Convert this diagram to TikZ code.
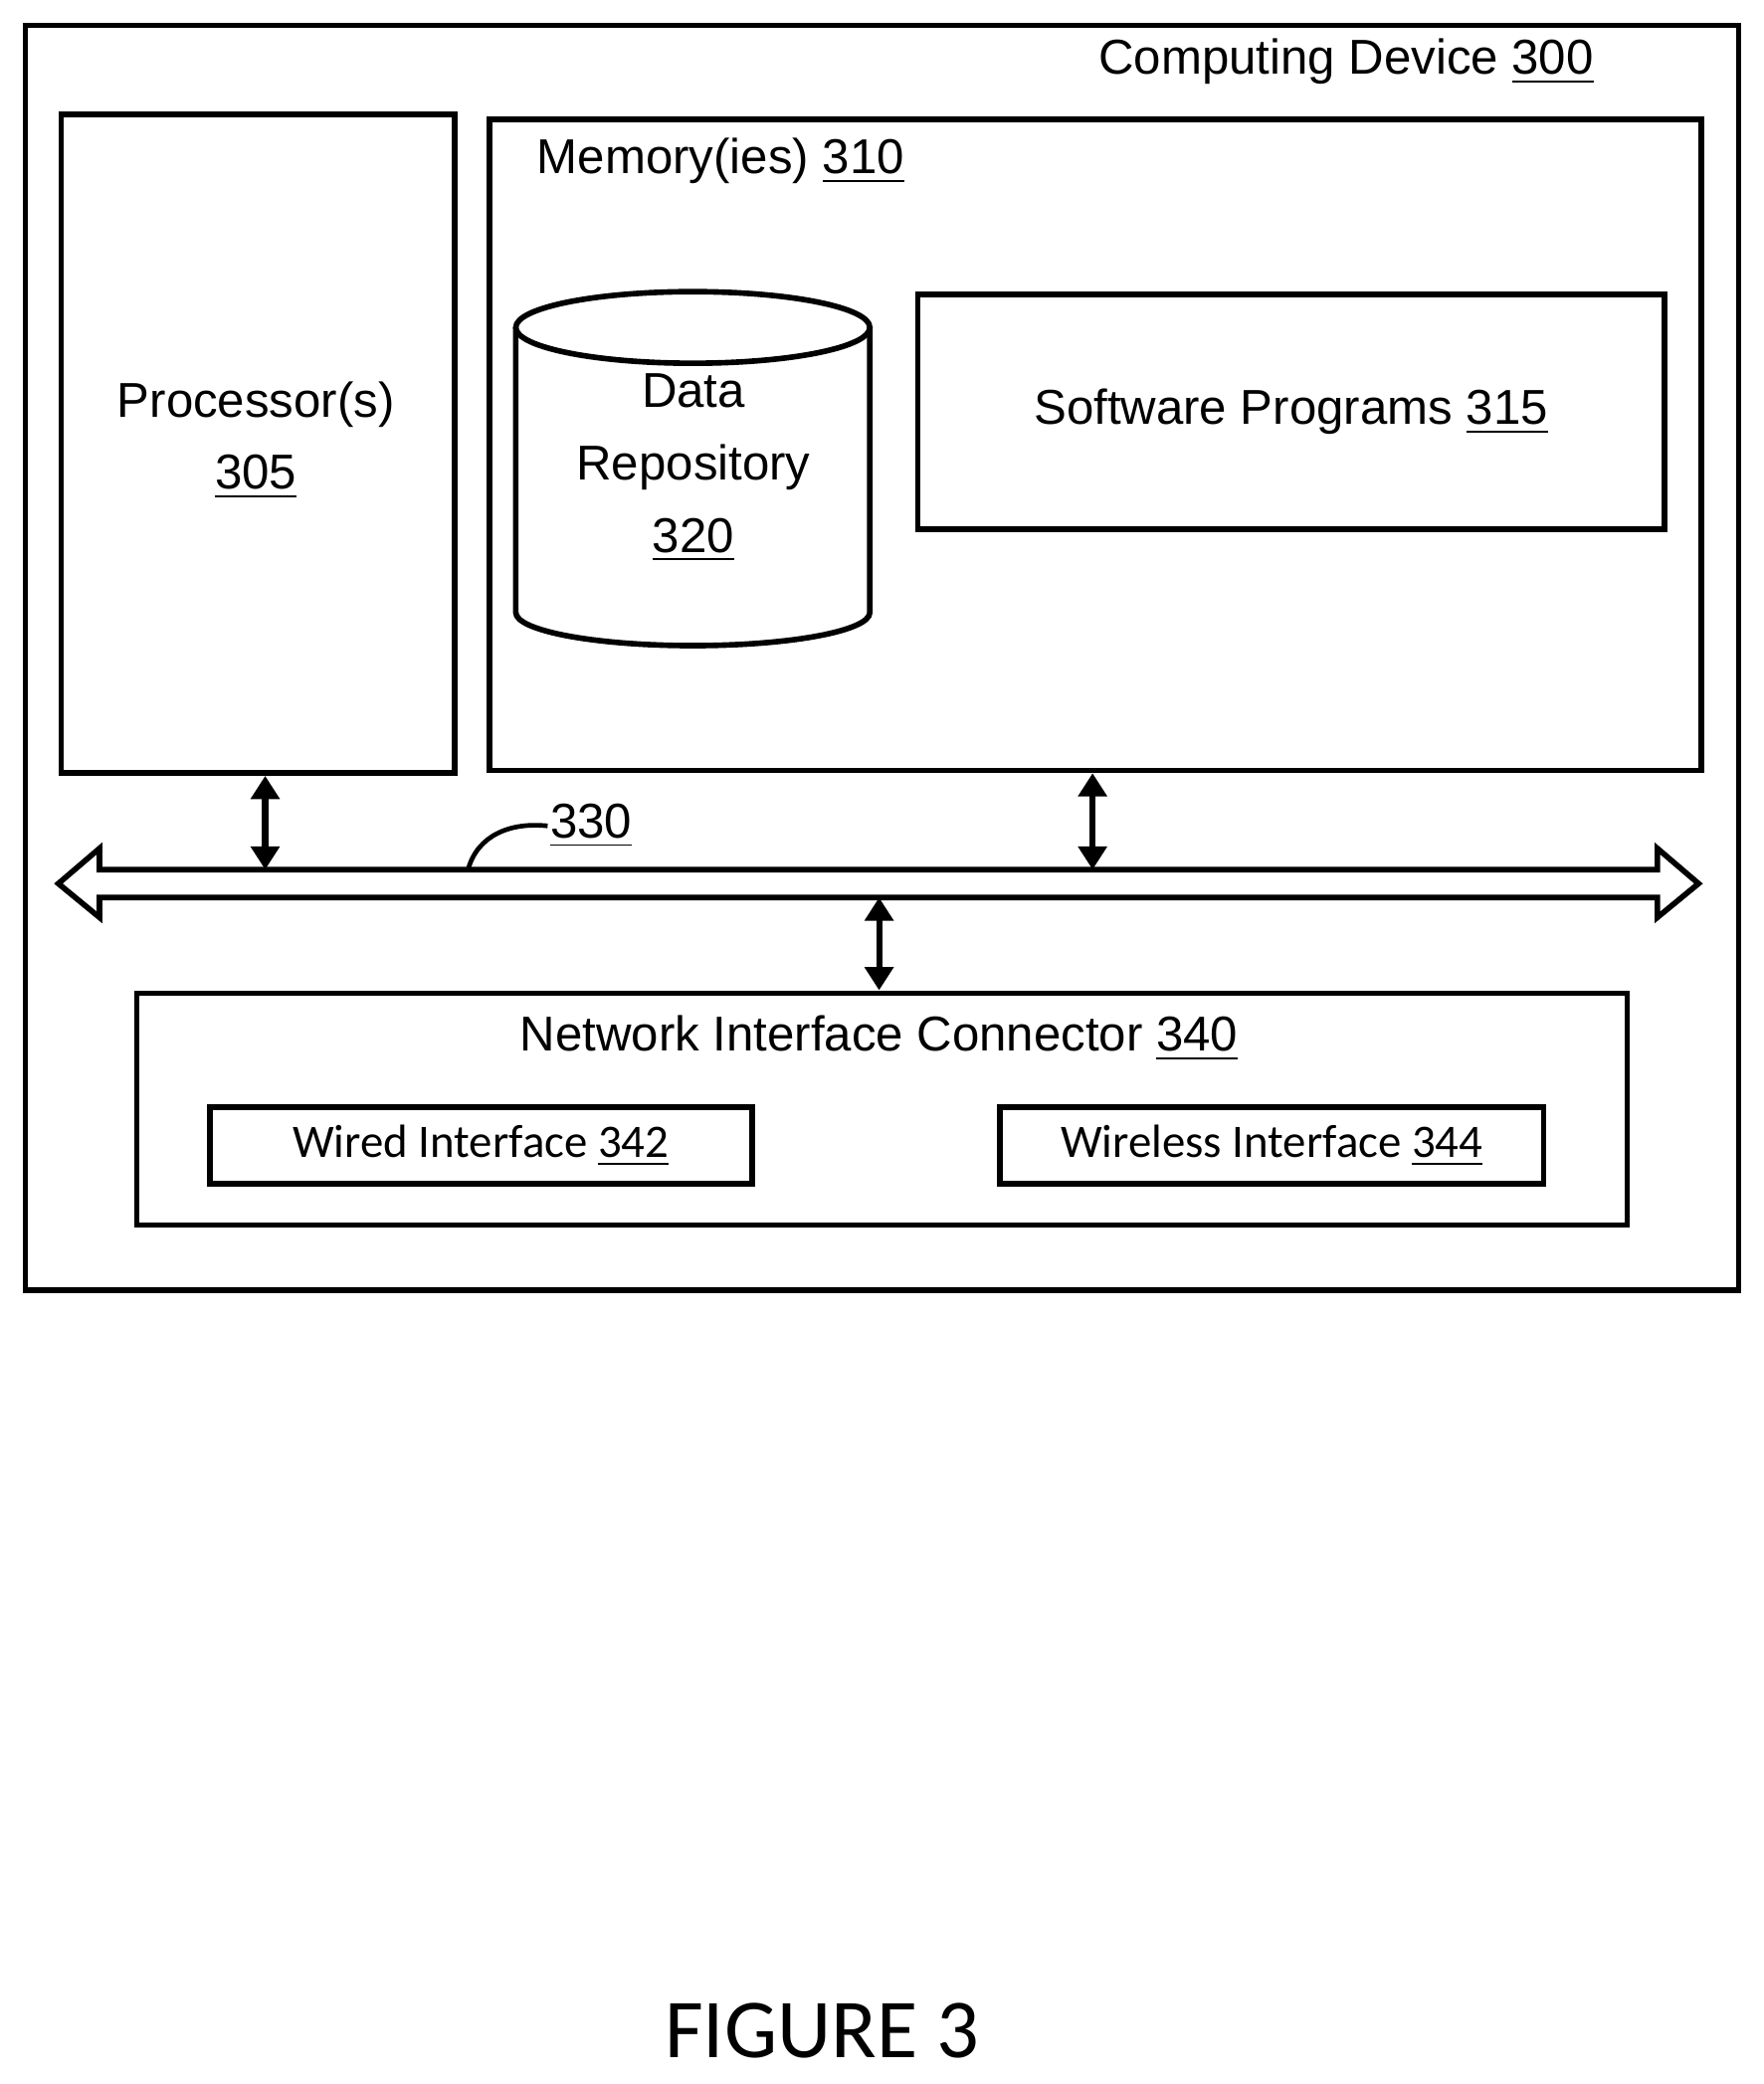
\documentclass[tikz,border=0pt]{standalone}
\usepackage{fontspec}
\setmainfont{Liberation Sans}
\newfontfamily\calfont{Carlito}
\usetikzlibrary{positioning,arrows.meta}
\newcommand{\refnum}[1]{\underline{#1}}
\begin{document}
\begin{tikzpicture}[
    x=0.1mm, y=-0.1mm,
    line width=1.2pt,
    box/.style={draw, line width=1.2pt, anchor=north west, inner sep=0pt},
    lbl/.style={font=\fontsize{10.5}{12.5}\selectfont, align=center, inner sep=0pt},
    small/.style={font=\calfont\fontsize{10}{12}\selectfont, inner sep=0pt},
    link/.style={{Triangle[length=5pt,width=6pt]}-{Triangle[length=5pt,width=6pt]}, line width=1.3pt}
]
\useasboundingbox (0,0) rectangle (1330,1572);

% Outer device
\node[box, minimum width=1292\pgflinewidth/1.2pt*0+129.2mm, minimum height=95.4mm] (device) at (17,17) {};
\node[lbl, anchor=base east] (devlbl) at (1204,56) {Computing Device \refnum{300}};

% Processor and memory
\node[box, minimum width=29.7mm, minimum height=49.7mm] (proc) at (44,84) {};
\node[lbl] (proclbl) at (193,332) {Processor(s)\\[3pt]\refnum{305}};
\node[box, minimum width=91.4mm, minimum height=49.1mm] (mem) at (367,88) {};
\node[lbl, anchor=base west] (memlbl) at (403,131) {Memory(ies) \refnum{310}};

% Data repository
\draw (389,247) -- (389,462) arc[start angle=180, end angle=360, x radius=133.5, y radius=-25]
      -- (656,247);
\draw (522.5,247) ellipse[x radius=133.5, y radius=27];
\node[lbl] (repo) at (523,353) {Data\\[3pt]Repository\\[3pt]\refnum{320}};

\node[box, minimum width=56.3mm, minimum height=17.7mm] (soft) at (690,220) {};
\node[lbl] at (soft.center) {Software Programs \refnum{315}};

% Bus
\coordinate (busL) at (44,666.5);
\coordinate (busR) at (1281,666.5);
\draw (busL) -- (75,640) -- (75,656) -- (1250,656) -- (1250,640) -- (busR)
      -- (1250,692) -- (1250,677) -- (75,677) -- (75,692) -- cycle;
\coordinate (busP) at (200,656);
\coordinate (busM) at (824,656);
\coordinate (busN) at (663,677);
\node[lbl, anchor=west] (buslbl) at (413,623) {\refnum{330}};
\draw[line width=1pt] (353,656) .. controls (360,630) and (385,620) .. (buslbl.west);

% Network interface
\node[box, minimum width=112.4mm, minimum height=17.5mm] (net) at (101,747) {};
\node[lbl, anchor=base] at (663,793) {Network Interface Connector \refnum{340}};
\node[box, minimum width=40.9mm, minimum height=5.8mm] (wired) at (156,833) {};
\node[small] at (wired.center) {Wired Interface \refnum{342}};
\node[box, minimum width=41mm, minimum height=5.8mm] (wireless) at (752,833) {};
\node[small] at (wireless.center) {Wireless Interface \refnum{344}};

% Arrows
\draw[link] (proc.south -| busP) -- (busP);
\draw[link] (mem.south -| busM) -- (busM);
\draw[link] (busN) -- (net.north -| busN);

\node[font=\calfont\fontsize{18}{20}\selectfont, inner sep=0pt] (fig) at (620,1532) {FIGURE 3};
\end{tikzpicture}
\end{document}
